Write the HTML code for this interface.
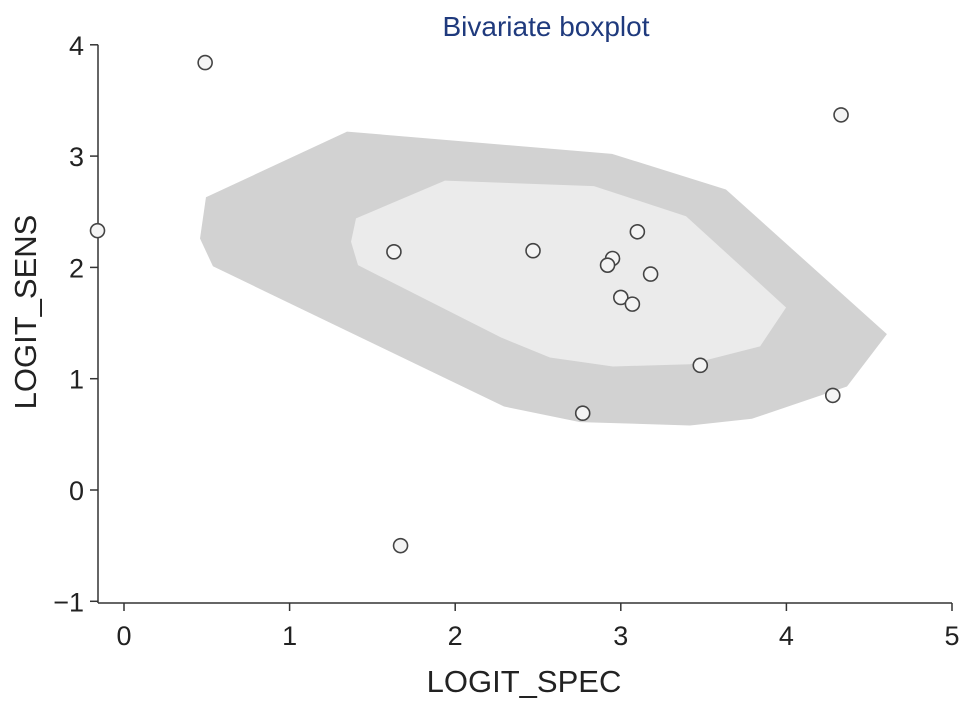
<!DOCTYPE html>
<html><head><meta charset="utf-8"><style>
html,body{margin:0;padding:0;background:#fff;}
svg{display:block;font-family:"Liberation Sans",sans-serif;}
</style></head><body>
<svg id="chart" width="969" height="707" viewBox="0 0 969 707" xmlns="http://www.w3.org/2000/svg">
<text x="546" y="36" text-anchor="middle" font-size="28" fill="#1f3a7d">Bivariate boxplot</text>
<text transform="translate(36,312) rotate(-90)" text-anchor="middle" font-size="31" fill="#222">LOGIT_SENS</text>
<text x="524" y="692" text-anchor="middle" font-size="31" fill="#222">LOGIT_SPEC</text>
<g id="plot"></g>
</svg>
<script>
const xTicks=[0,1,2,3,4,5];
const yTicks=[4,3,2,1,0,-1];
const yTickLabels=["4","3","2","1","0","\u22121"];
const outerX=[0.495,1.347,2.947,3.635,4.607,4.366,3.792,3.418,2.754,2.295,0.537,0.459];
const outerY=[2.63,3.22,3.02,2.70,1.40,0.93,0.64,0.58,0.61,0.75,2.01,2.26];
const innerX=[1.938,2.838,3.394,3.998,3.841,3.418,2.953,2.572,2.277,1.413,1.371,1.401];
const innerY=[2.78,2.73,2.46,1.64,1.29,1.13,1.11,1.19,1.37,2.02,2.23,2.44];
const ptX=[0.49,-0.16,1.63,2.47,3.10,2.95,2.92,3.18,3.00,3.07,3.48,2.77,4.28,4.33,1.67];
const ptY=[3.84,2.33,2.14,2.15,2.32,2.08,2.02,1.94,1.73,1.67,1.12,0.69,0.85,3.37,-0.50];

const NS="http://www.w3.org/2000/svg";
const sx=v=>124+v*165.6;
const sy=v=>490-v*111.3;
const g=document.getElementById('plot');
function mk(t,a){const e=document.createElementNS(NS,t);for(const k in a)e.setAttribute(k,a[k]);g.appendChild(e);return e;}

const op=mk('polygon',{points:outerX.map((x,i)=>sx(x)+','+sy(outerY[i])).join(' '),fill:'#d2d2d2'});


const ip=mk('polygon',{points:innerX.map((x,i)=>sx(x)+','+sy(innerY[i])).join(' '),fill:'#ebebeb'});



const ya=mk('line',{x1:98,y1:sy(4),x2:98,y2:603,stroke:'#333','stroke-width':1.5});


const xa=mk('line',{x1:98,y1:603,x2:sx(5),y2:603,stroke:'#333','stroke-width':1.5});



xTicks.forEach(v=>{
  const t=mk('line',{x1:sx(v),y1:603,x2:sx(v),y2:611,stroke:'#333','stroke-width':1.5});
  
  
  const l=mk('text',{x:sx(v),y:645,'text-anchor':'middle','font-size':27,fill:'#222'});
  l.textContent=String(v);
  
  
});
yTicks.forEach((v,i)=>{
  const t=mk('line',{x1:90,y1:sy(v),x2:98,y2:sy(v),stroke:'#333','stroke-width':1.5});
  
  
  const l=mk('text',{x:84,y:sy(v)+10,'text-anchor':'end','font-size':27,fill:'#222'});
  l.textContent=yTickLabels[i];
  
  
});
ptX.forEach((x,i)=>{
  const c=mk('circle',{cx:sx(x),cy:sy(ptY[i]),r:7,fill:'#f4f4f4',stroke:'#444','stroke-width':1.6});
  
  
});
</script>
</body></html>
